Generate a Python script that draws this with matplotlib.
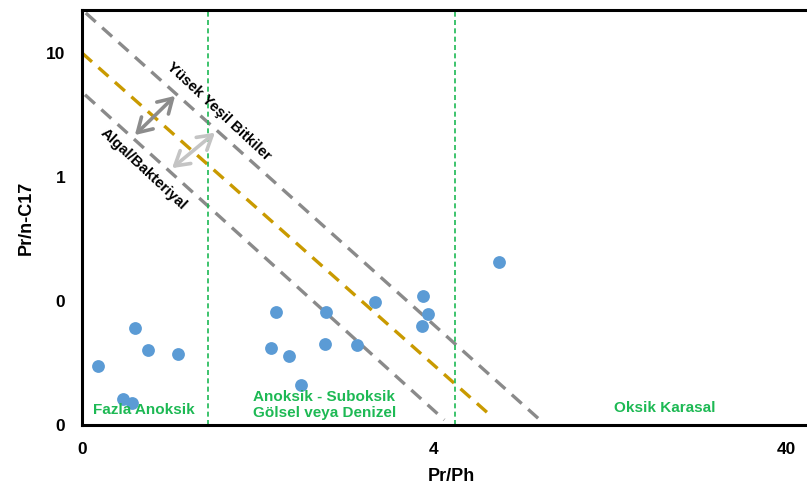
import matplotlib
matplotlib.use('Agg')
import matplotlib.pyplot as plt

plt.rcParams['font.family'] = ['Liberation Sans', 'DejaVu Sans']
plt.rcParams['font.weight'] = 'bold'

# ---- Data ----
pr_ph = [0.445, 0.566, 0.617, 0.748, 0.524, 0.556, 1.423, 1.374, 1.549,
         1.676, 1.973, 1.960, 2.422, 2.724, 3.73, 3.84, 3.69, 6.12]
pr_c17 = [0.0301, 0.0603, 0.0403, 0.0372, 0.0161, 0.0151, 0.0820, 0.0420,
          0.0358, 0.0210, 0.0811, 0.0448, 0.0442, 0.0986, 0.1096, 0.0785,
          0.0625, 0.2075]

# diagonal boundaries (endpoints)
upper_x = [0.41, 8.0]
upper_y = [21.0, 0.011]
mid_x = [0.40, 5.9]
mid_y = [10.0, 0.0114]
lower_x = [0.408, 4.28]
lower_y = [4.6, 0.011]

# environment boundaries on Pr/Ph
env_bounds = [0.91, 4.6]

x_ticks = [0.4, 4, 40]
x_labels = ['0', '4', '40']
y_ticks = [0.01, 0.1, 1, 10]
y_labels = ['0', '0', '1', '10']

GREEN = '#1db954'
GRAY = '#8a8a8a'
GOLD = '#c99a00'

fig = plt.figure(figsize=(8.07, 4.91), dpi=100)
ax = fig.add_axes([82 / 807, 1 - 425 / 491, 738 / 807, 415 / 491])
ax.set_xscale('log')
ax.set_yscale('log')
ax.set_xlim(0.4, 50)
ax.set_ylim(0.01, 22.2)

ax.plot(upper_x, upper_y, color=GRAY, lw=2.4, dashes=(4, 2.6))
ax.plot(mid_x, mid_y, color=GOLD, lw=2.4, dashes=(4, 2.6))
ax.plot(lower_x, lower_y, color=GRAY, lw=2.4, dashes=(4, 2.6))

for xb in env_bounds:
    ax.axvline(xb, color=GREEN, lw=1.2, dashes=(3, 2))

ax.scatter(pr_ph, pr_c17, s=85, color='#5b9bd5', zorder=3, linewidths=0)

# double arrows
arrow_style = '<->,head_length=1.0,head_width=0.6'
ax.annotate('', xy=(0.745, 4.67), xytext=(0.558, 2.10),
            arrowprops=dict(arrowstyle=arrow_style, color='#8c8c8c', lw=2.6))
ax.annotate('', xy=(0.968, 2.35), xytext=(0.711, 1.14),
            arrowprops=dict(arrowstyle=arrow_style, color='#c4c4c4', lw=2.6))

ax.text(0.98, 3.40, 'Yüsek Yeşil Bitkiler', rotation=-43, ha='center',
        va='center', fontsize=10.8, fontweight='bold', rotation_mode='anchor')
ax.text(0.60, 1.16, 'Algal/Bakteriyal', rotation=-43, ha='center',
        va='center', fontsize=10.8, fontweight='bold', rotation_mode='anchor')

ax.text(0.60, 0.0132, 'Fazla Anoksik', color=GREEN, ha='center', va='center',
        fontsize=11, fontweight='bold')
ax.text(1.95, 0.0145, 'Anoksik - Suboksik\nGölsel veya Denizel', color=GREEN,
        ha='center', va='center', fontsize=11, fontweight='bold',
        linespacing=1.1)
ax.text(18.1, 0.0137, 'Oksik Karasal', color=GREEN, ha='center', va='center',
        fontsize=11, fontweight='bold')

ax.xaxis.set_major_locator(matplotlib.ticker.FixedLocator(x_ticks))
ax.xaxis.set_minor_locator(matplotlib.ticker.NullLocator())
ax.set_xticklabels(x_labels)
ax.yaxis.set_major_locator(matplotlib.ticker.FixedLocator(y_ticks))
ax.yaxis.set_minor_locator(matplotlib.ticker.NullLocator())
ax.set_yticklabels(y_labels)
ax.tick_params(axis='x', length=0, labelsize=12.5, pad=12)
ax.tick_params(axis='y', length=0, labelsize=12.5, pad=12)
for lab in ax.get_xticklabels() + ax.get_yticklabels():
    lab.set_fontweight('bold')

for sp in ax.spines.values():
    sp.set_linewidth(2.2)
    sp.set_color('black')

ax.set_xlabel('Pr/Ph', fontsize=13, fontweight='bold', labelpad=8)
ax.set_ylabel('Pr/n-C17', fontsize=13, fontweight='bold', labelpad=8)

fig.savefig('out.png', dpi=100)
